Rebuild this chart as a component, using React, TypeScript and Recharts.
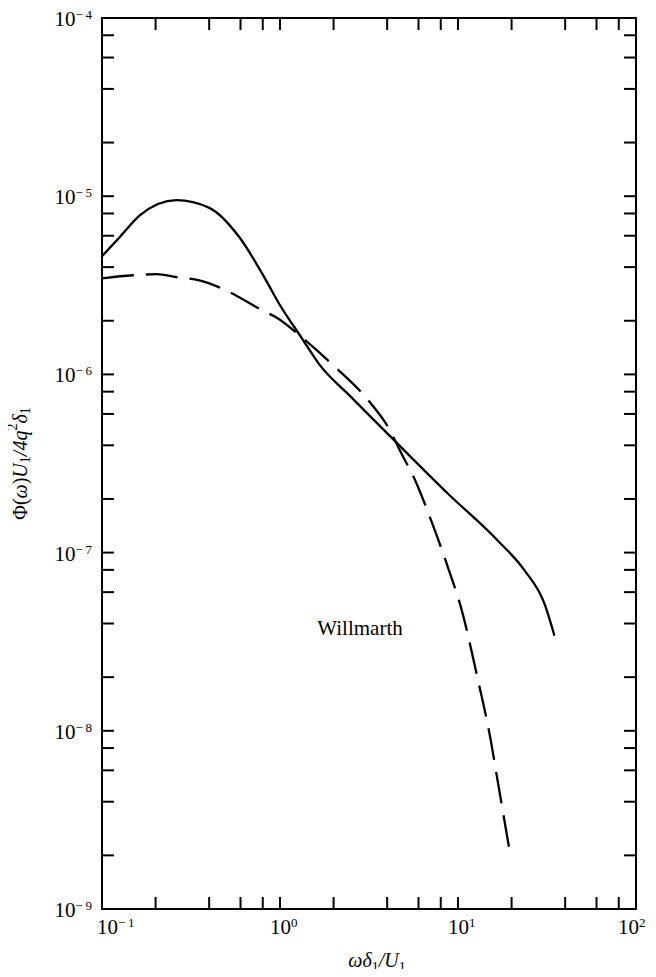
import React from "react";
import { LineChart, Line, XAxis, YAxis, ReferenceArea, ReferenceDot } from "recharts";

const SOLID_X = [0.1, 0.126, 0.163, 0.262, 0.401, 0.59, 0.835, 0.987, 1.33, 1.65, 2.52, 4.22, 8.79, 16.7, 23.7, 30.6, 34.8];
const SOLID_Y = [4.6e-6, 5.9e-6, 7.8e-6, 9.5e-6, 8.6e-6, 5.9e-6, 3.37e-6, 2.5e-6, 1.59e-6, 1.15e-6, 7.43e-7, 4.43e-7, 2.14e-7, 1.17e-7, 7.92e-8, 5.17e-8, 3.42e-8];

const DASH_X = [0.1, 0.149, 0.203, 0.262, 0.352, 0.456, 0.59, 0.793, 0.95, 1.33, 2.06, 3.14, 4.06, 4.81, 5.75, 7.07, 8.79, 10.4, 12.9, 15.3, 16.7, 19.8];
const DASH_Y = [3.46e-6, 3.6e-6, 3.65e-6, 3.51e-6, 3.37e-6, 3.08e-6, 2.71e-6, 2.29e-6, 2.09e-6, 1.61e-6, 1.09e-6, 7.14e-7, 5.04e-7, 3.6e-7, 2.54e-7, 1.51e-7, 8.24e-8, 4.91e-8, 1.96e-8, 8.78e-9, 5.24e-9, 1.94e-9];

const X_TICKS = [0.1, 0.2, 0.4, 0.6, 0.8, 1, 2, 4, 6, 8, 10, 20, 40, 60, 80, 100];
const Y_TICKS = [
  1e-9, 2e-9, 4e-9, 6e-9, 8e-9,
  1e-8, 2e-8, 4e-8, 6e-8, 8e-8,
  1e-7, 2e-7, 4e-7, 6e-7, 8e-7,
  1e-6, 2e-6, 4e-6, 6e-6, 8e-6,
  1e-5, 2e-5, 4e-5, 6e-5, 8e-5,
  1e-4,
];

const ANNOTATION = { x: 1.62, y: 3.45e-8, text: "Willmarth" };

const solidData = SOLID_X.map((x, i) => ({ x, y: SOLID_Y[i] }));
const dashData = DASH_X.map((x, i) => ({ x, y: DASH_Y[i] }));

const W = 656;
const H = 977;
const M = { top: 18, right: 20, left: 0, bottom: 0 };
const Y_AXIS_W = 102;
const X_AXIS_H = 68;
const PLOT_W = W - M.left - M.right - Y_AXIS_W;
const PLOT_H = H - M.top - M.bottom - X_AXIS_H;
const TICK = 12;
const FONT = "'Liberation Serif', 'DejaVu Serif', serif";

const isDecade = (v: number) => Math.abs(Math.log10(v) - Math.round(Math.log10(v))) < 1e-6;
const expOf = (v: number) => {
  const e = Math.round(Math.log10(v));
  return e < 0 ? "\u2212\u2009" + Math.abs(e) : String(e);
};

const XTick = (props: any) => {
  const { x, y, payload } = props;
  const v = payload.value;
  const dec = isDecade(v);
  const shift = v === 0.1 ? 5 : v === 100 ? -8 : 0;
  return (
    <g>
      <line x1={x} y1={y} x2={x} y2={y - TICK} stroke="#000" strokeWidth={2} />
      <line x1={x} y1={y - PLOT_H} x2={x} y2={y - PLOT_H + TICK} stroke="#000" strokeWidth={2} />
      {dec && (
        <text x={x - 10 + shift} y={y + 25} textAnchor="start" fontFamily={FONT} fontSize={21} fill="#000">
          <tspan>10</tspan>
          <tspan dy={-7} fontSize={13}>{expOf(v)}</tspan>
        </text>
      )}
    </g>
  );
};

const YTick = (props: any) => {
  const { x, y, payload } = props;
  const v = payload.value;
  const dec = isDecade(v);
  return (
    <g>
      <line x1={x} y1={y} x2={x + TICK} y2={y} stroke="#000" strokeWidth={2} />
      <line x1={x + PLOT_W} y1={y} x2={x + PLOT_W - TICK} y2={y} stroke="#000" strokeWidth={2} />
      {dec && (
        <text x={x - 10} y={y + 8} textAnchor="end" fontFamily={FONT} fontSize={21} fill="#000">
          <tspan>10</tspan>
          <tspan dy={-7} fontSize={13}>{expOf(v)}</tspan>
        </text>
      )}
    </g>
  );
};

const YLabel = (props: any) => {
  const vb = props.viewBox || {};
  const cx = 20;
  const cy = (vb.y ?? M.top) + (vb.height ?? PLOT_H) / 2;
  return (
    <text
      x={cx}
      y={cy}
      transform={`rotate(-90, ${cx}, ${cy})`}
      textAnchor="middle"
      dominantBaseline="central"
      fontFamily={FONT}
      fontSize={20}
      fill="#000"
    >
      <tspan>Φ(</tspan>
      <tspan fontStyle="italic">ω</tspan>
      <tspan>)</tspan>
      <tspan fontStyle="italic">U</tspan>
      <tspan dy={5} fontSize={14}>1</tspan>
      <tspan dy={-5} fontStyle="italic">/4q</tspan>
      <tspan dy={-8} fontSize={14}>2</tspan>
      <tspan dy={8} fontStyle="italic">δ</tspan>
      <tspan dy={5} fontSize={14}>1</tspan>
    </text>
  );
};

const XLabel = (props: any) => {
  const vb = props.viewBox || {};
  const cx = (vb.x ?? Y_AXIS_W) + (vb.width ?? PLOT_W) / 2 + 8;
  const cy = H - 10;
  return (
    <text x={cx} y={cy} textAnchor="middle" fontFamily={FONT} fontSize={20} fill="#000">
      <tspan fontStyle="italic">ωδ</tspan>
      <tspan dy={5} fontSize={14}>1</tspan>
      <tspan dy={-5} fontStyle="italic">/U</tspan>
      <tspan dy={5} fontSize={14}>1</tspan>
    </text>
  );
};

const AnnotationLabel = (props: any) => {
  const vb = props.viewBox || {};
  const x = vb.cx ?? vb.x ?? 0;
  const y = vb.cy ?? vb.y ?? 0;
  return (
    <text x={x} y={y} textAnchor="start" fontFamily={FONT} fontSize={21} fill="#000">
      {ANNOTATION.text}
    </text>
  );
};

export default function App() {
  return (
    <div style={{ width: W, height: H, background: "#fff", margin: -8 }}>
      <LineChart width={W} height={H} margin={M}>
        <XAxis
          dataKey="x"
          type="number"
          scale="log"
          domain={[0.1, 100]}
          allowDataOverflow
          ticks={X_TICKS}
          interval={0}
          tick={<XTick />}
          tickLine={false}
          axisLine={false}
          tickSize={0}
          tickMargin={0}
          height={X_AXIS_H}
          label={<XLabel />}
        />
        <YAxis
          dataKey="y"
          type="number"
          scale="log"
          domain={[1e-9, 1e-4]}
          allowDataOverflow
          ticks={Y_TICKS}
          interval={0}
          tick={<YTick />}
          tickLine={false}
          axisLine={false}
          tickSize={0}
          tickMargin={0}
          width={Y_AXIS_W}
          label={<YLabel />}
        />
        <ReferenceArea
          x1={0.1}
          x2={100}
          y1={1e-9}
          y2={1e-4}
          fill="none"
          fillOpacity={0}
          stroke="#000"
          strokeWidth={2}
          ifOverflow="visible"
        />
        <Line
          data={solidData}
          dataKey="y"
          type="monotone"
          stroke="#000"
          strokeWidth={2.3}
          dot={false}
          isAnimationActive={false}
        />
        <Line
          data={dashData}
          dataKey="y"
          type="monotone"
          stroke="#000"
          strokeWidth={2.3}
          strokeDasharray="32 12"
          dot={false}
          isAnimationActive={false}
        />
        <ReferenceDot
          x={ANNOTATION.x}
          y={ANNOTATION.y}
          r={0}
          fill="none"
          stroke="none"
          ifOverflow="visible"
          label={<AnnotationLabel />}
        />
      </LineChart>
    </div>
  );
}
